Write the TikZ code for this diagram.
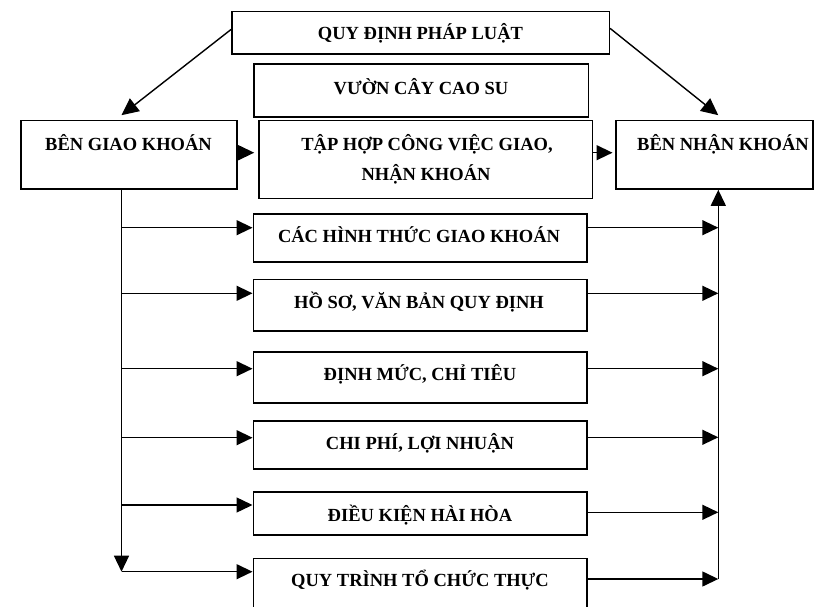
\documentclass[tikz,border=0pt]{standalone}
\usepackage{fontspec}
\setmainfont{Liberation Serif}
\usetikzlibrary{arrows.meta,calc}
\begin{document}
\begin{tikzpicture}[x=1pt,y=-1pt,
  box/.style={draw, line width=1.6pt, inner sep=0pt, rectangle},
  txt/.style={font=\fontsize{18.5}{22}\selectfont\bfseries, anchor=base, inner sep=0pt},
  conn/.style={line width=1.4pt, -{Triangle[length=16pt,width=15pt]}},
  bigconn/.style={line width=1.4pt, -{Triangle[length=17pt,width=16pt]}}
]
\clip (0,0) rectangle (816,607);
\fill[white] (0,0) rectangle (816,607);
\coordinate (L) at (121.5,0);
\coordinate (R) at (718.3,0);
% boxes
\node[box, minimum width=377.3pt, minimum height=42.3pt] (qd) at (420.65,32.85) {};
\node[box, minimum width=334.3pt, minimum height=53pt] (vc) at (421.15,90.5) {};
\node[box, minimum width=216.3pt, minimum height=68.3pt] (bg) at (128.85,154.85) {};
\node[box, minimum width=333.5pt, minimum height=77.8pt] (th) at (425.75,159.6) {};
\node[box, minimum width=197.3pt, minimum height=68.3pt] (bn) at (714.35,154.85) {};
\node[box, minimum width=333.4pt, minimum height=48pt] (r1) at (420,238) {};
\node[box, minimum width=333.4pt, minimum height=51.4pt] (r2) at (420,305) {};
\node[box, minimum width=333.4pt, minimum height=51pt] (r3) at (420,377.2) {};
\node[box, minimum width=333.4pt, minimum height=48pt] (r4) at (420,444.7) {};
\node[box, minimum width=333.4pt, minimum height=43.3pt] (r5) at (420,513.35) {};
\node[box, minimum width=333.4pt, minimum height=91.7pt] (r6) at (420,604.15) {};
% texts
\node[txt] (tqd) at (420.5,40) {QUY ĐỊNH PHÁP LUẬT};
\node[txt] (tvc) at (421,95) {VƯỜN CÂY CAO SU};
\node[txt] (tbg) at (128.5,150) {BÊN GIAO KHOÁN};
\node[txt] (tth1) at (427,150) {TẬP HỢP CÔNG VIỆC GIAO,};
\node[txt] (tth2) at (426,180.7) {NHẬN KHOÁN};
\node[txt] (tbn) at (723,150) {BÊN NHẬN KHOÁN};
\node[txt] (tr1) at (419,242.7) {CÁC HÌNH THỨC GIAO KHOÁN};
\node[txt] (tr2) at (419,308.3) {HỒ SƠ, VĂN BẢN QUY ĐỊNH};
\node[txt] (tr3) at (420,380.7) {ĐỊNH MỨC, CHỈ TIÊU};
\node[txt] (tr4) at (420,449) {CHI PHÍ, LỢI NHUẬN};
\node[txt] (tr5) at (420,521) {ĐIỀU KIỆN HÀI HÒA};
\node[txt] (tr6) at (420,586) {QUY TRÌNH TỔ CHỨC THỰC};
% connectors
\draw[bigconn] ([yshift=3.5pt]qd.west) -- ([yshift=4.7pt]bg.north -| L);
\draw[bigconn] ([yshift=4.5pt]qd.east) -- ([yshift=4.7pt]bn.north -| R);
\draw[conn] ([yshift=2.15pt]bg.east) -- ([yshift=2.15pt,xshift=-4pt]bg.east -| th.west);
\draw[conn] ([yshift=6.9pt]th.east) -- ([yshift=6.9pt,xshift=-2.4pt]th.east -| bn.west);
% left bus
\draw[conn] (bg.south -| L) -- ([yshift=32.45pt]r6.west -| L);
\draw[conn] ([yshift=10.3pt]r1.west -| L) -- ([yshift=10.3pt]r1.west);
\draw[conn] ([yshift=11.7pt]r2.west -| L) -- ([yshift=11.7pt]r2.west);
\draw[conn] ([yshift=8.5pt]r3.west -| L) -- ([yshift=8.5pt]r3.west);
\draw[conn] ([yshift=7pt]r4.west -| L) -- ([yshift=7pt]r4.west);
\draw[conn] ([yshift=8.35pt]r5.west -| L) -- ([yshift=8.35pt]r5.west);
\draw[conn] ([yshift=32.45pt]r6.west -| L) -- ([yshift=32.45pt]r6.west);
% right bus
\draw[conn] ([yshift=25.15pt]r6.east -| R) -- (bn.south -| R);
\draw[conn] ([yshift=10.3pt]r1.east) -- ([yshift=10.3pt]r1.east -| R);
\draw[conn] ([yshift=11.7pt]r2.east) -- ([yshift=11.7pt]r2.east -| R);
\draw[conn] ([yshift=8.5pt]r3.east) -- ([yshift=8.5pt]r3.east -| R);
\draw[conn] ([yshift=7.4pt]r4.east) -- ([yshift=7.4pt]r4.east -| R);
\draw[conn] ([yshift=1.05pt]r5.east) -- ([yshift=1.05pt]r5.east -| R);
\draw[conn] ([yshift=25.15pt]r6.east) -- ([yshift=25.15pt]r6.east -| R);
\end{tikzpicture}
\end{document}
